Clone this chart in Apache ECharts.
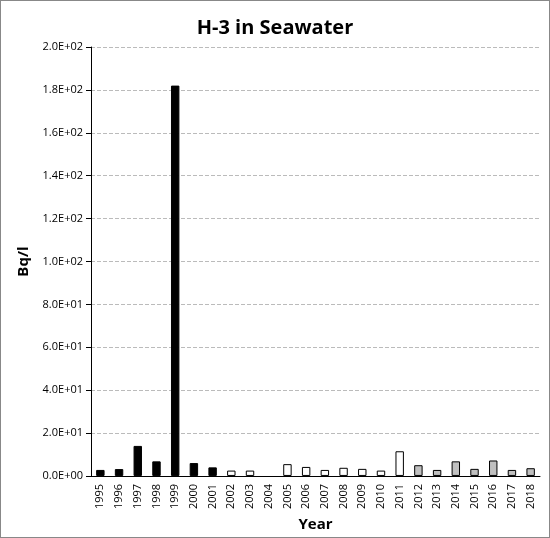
<!DOCTYPE html><html><head><meta charset="utf-8">
<script src="https://cdn.jsdelivr.net/npm/echarts@6/dist/echarts.min.js"></script>
<style>body{margin:0}#c{width:548px;height:536px;border:1px solid #888}</style></head><body><div id="c"></div>
<script>
const years=['1995','1996','1997','1998','1999','2000','2001','2002','2003','2004','2005','2006','2007','2008','2009','2010','2011','2012','2013','2014','2015','2016','2017','2018'];
const values=[2.8,3.2,14,6.8,182,6,4,2.5,2.5,null,5.5,4.2,2.8,3.8,3.3,2.5,11.5,5,2.8,6.8,3.3,7.2,2.8,3.6];
const groupColors=['#000000','#ffffff','#c0c0c0'];
const groupOf=y=>y<=2001?0:(y<=2011?1:2);
const fmt=v=>{if(v===0)return '0.0E+00';const e=Math.floor(Math.log10(v));return (v/Math.pow(10,e)).toFixed(1)+'E+'+String(e).padStart(2,'0');};
const c=echarts.init(document.getElementById('c'));
c.setOption({
 title:{text:'H-3 in Seawater',left:'center',top:12,textStyle:{fontFamily:'Open Sans',fontWeight:'bold',fontSize:20,color:'#000'}},
 grid:{left:90,right:9,top:46,bottom:61},
 xAxis:{type:'category',data:years,name:'Year',nameLocation:'middle',nameGap:40,nameTextStyle:{fontWeight:'bold',fontSize:15,fontFamily:'Open Sans',color:'#000'},
  axisLabel:{rotate:90,fontSize:11,color:'#000',interval:0,fontFamily:'Open Sans'},axisLine:{lineStyle:{color:'#000'}},axisTick:{alignWithLabel:false,lineStyle:{color:'#000'}}},
 yAxis:{type:'value',min:0,max:200,interval:20,name:'Bq/l',nameLocation:'middle',nameGap:60,nameTextStyle:{fontWeight:'bold',fontSize:15,fontFamily:'Open Sans',color:'#000'},
  axisLabel:{formatter:fmt,fontSize:11,color:'#000',fontFamily:'Open Sans'},axisLine:{show:true,lineStyle:{color:'#000'}},axisTick:{show:true,lineStyle:{color:'#000'}},
  splitLine:{lineStyle:{type:'dashed',color:'#bbb'}}},
 series:[{type:'bar',barWidth:'45%',data:values.map((v,i)=>({value:v,itemStyle:{color:groupColors[groupOf(+years[i])],borderColor:'#000',borderWidth:1}}))}]
});
</script></body></html>
